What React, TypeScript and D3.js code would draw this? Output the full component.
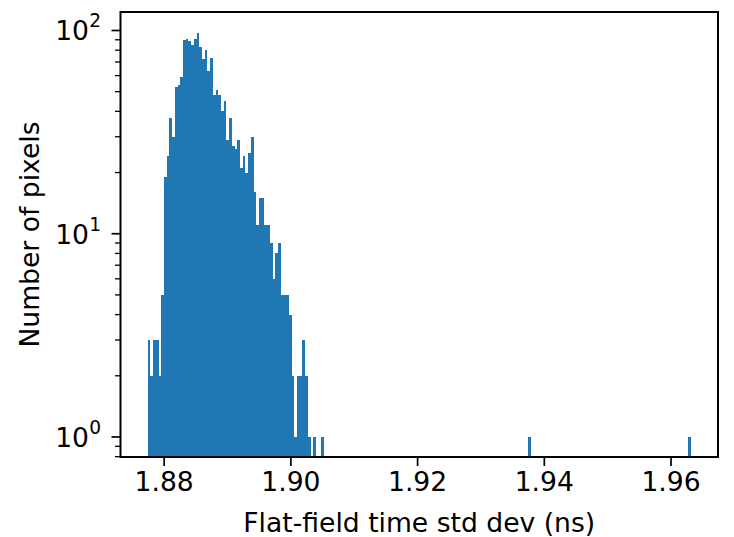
import React from "react";
import * as d3 from "d3";

// Histogram: 200 equal bins between binStart and binEnd
const binStart = 1.877395;
const binEnd = 1.963126;
const nBins = 200;
// counts for the first 65 bins (the main cluster)
const counts = [
  3, 2, 3, 3, 2, 5, 19, 24, 37, 30,
  53, 54, 59, 90, 91, 89, 85, 91, 97, 83,
  72, 80, 63, 73, 48, 51, 48, 40, 45, 29,
  37, 27, 26, 29, 21, 24, 20, 25, 30, 16,
  11, 15, 15, 11, 11, 9, 6, 8, 9, 5,
  5, 5, 4, 2, 1, 2, 2, 3, 2, 1,
  0, 1, 0, 0, 1,
];
// isolated outlier bins
const outlierBins = [140, 199];
const outlierCounts = [1, 1];

const xTicks = [1.88, 1.9, 1.92, 1.94, 1.96];
const yTicks = [1, 10, 100];
const yTickExp = ["0", "1", "2"];
const xLabel = "Flat-field time std dev (ns)";
const yLabel = "Number of pixels";

const W = 734;
const H = 537;
const L = 120.5, R = 718, T = 12, B = 457;
const FONT = "DejaVu Sans, sans-serif";
const FS = 26.6;
const COLOR = "#1f77b4";

export default function App() {
  const binW = (binEnd - binStart) / nBins;
  const margin = (binEnd - binStart) * 0.05;
  const x = d3.scaleLinear().domain([binStart - margin, binEnd + margin]).range([L, R]);
  const y = d3.scaleLog().domain([0.797, 123.3]).range([B, T]);

  const bins: { i: number; c: number }[] = [];
  counts.forEach((c, i) => { if (c > 0) bins.push({ i, c }); });
  outlierBins.forEach((b, k) => bins.push({ i: b, c: outlierCounts[k] }));

  const minorTicks: number[] = [];
  for (let e = -1; e <= 2; e++) {
    for (let m = 2; m <= 9; m++) {
      const v = m * Math.pow(10, e);
      if (v >= 0.797 && v <= 123.3) minorTicks.push(v);
    }
  }

  return (
    <svg width={W} height={H} style={{ position: "absolute", left: 0, top: 0, background: "#fff" }} fontFamily={FONT}>
      <rect x={0} y={0} width={W} height={H} fill="#fff" />
      <defs>
        <clipPath id="plot">
          <rect x={L} y={T} width={R - L} height={B - T} />
        </clipPath>
      </defs>
      <g clipPath="url(#plot)" shapeRendering="crispEdges">
        {bins.map(({ i, c }) => {
          const x0 = x(binStart + i * binW);
          const x1 = x(binStart + (i + 1) * binW);
          const yy = y(c);
          return <rect key={i} x={x0} y={yy} width={x1 - x0} height={B - yy + 2} fill={COLOR} />;
        })}
      </g>
      {/* x ticks */}
      {xTicks.map((t) => (
        <g key={t}>
          <line x1={x(t)} x2={x(t)} y1={B} y2={B + 9} stroke="#000" strokeWidth={1.7} />
          <text x={x(t)} y={491} textAnchor="middle" fontSize={FS} fill="#000">
            {d3.format(".2f")(t)}
          </text>
        </g>
      ))}
      {/* y minor ticks */}
      {minorTicks.map((t) => (
        <line key={t} x1={L - 5.5} x2={L} y1={y(t)} y2={y(t)} stroke="#000" strokeWidth={1.3} />
      ))}
      {/* y major ticks */}
      {yTicks.map((t, k) => (
        <g key={t}>
          <line x1={L - 9} x2={L} y1={y(t)} y2={y(t)} stroke="#000" strokeWidth={1.7} />
          <text x={89} y={y(t) + 10} textAnchor="end" fontSize={FS} fill="#000">10</text>
          <text x={101} y={y(t) - 3} textAnchor="end" fontSize={FS * 0.7} fill="#000">{yTickExp[k]}</text>
        </g>
      ))}
      {/* spines */}
      <rect x={L} y={T} width={R - L} height={B - T} fill="none" stroke="#000" strokeWidth={2} />
      <text x={(L + R) / 2} y={532} textAnchor="middle" fontSize={FS} fill="#000">{xLabel}</text>
      <text transform={`translate(39,${(T + B) / 2}) rotate(-90)`} textAnchor="middle" fontSize={FS} fill="#000">{yLabel}</text>
    </svg>
  );
}
